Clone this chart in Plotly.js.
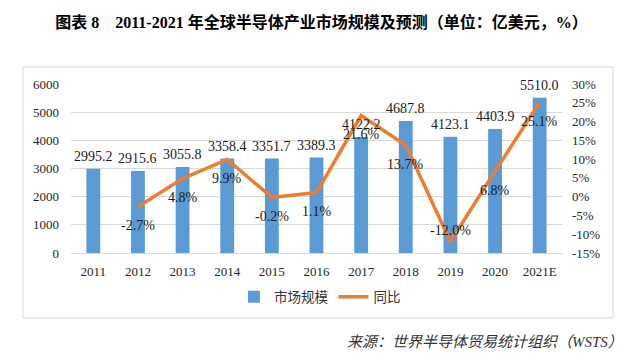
<!DOCTYPE html>
<html>
<head>
<meta charset="utf-8">
<script src="https://cdn.plot.ly/plotly-3.0.1.min.js"></script>
<style>html,body{margin:0;padding:0;background:#fff;}#chart{width:639px;height:358px;}</style>
</head>
<body>
<div id="chart"></div>
<script>
const years = ['2011','2012','2013','2014','2015','2016','2017','2018','2019','2020','2021E'];
const marketSize = [2995.2, 2915.6, 3055.8, 3358.4, 3351.7, 3389.3, 4122.2, 4687.8, 4123.1, 4403.9, 5510.0];
const growthYears = ['2012','2013','2014','2015','2016','2017','2018','2019','2020','2021E'];
const growth = [-2.7, 4.8, 9.9, -0.2, 1.1, 21.6, 13.7, -12.0, 6.8, 25.1];
const leftTicks = [0, 1000, 2000, 3000, 4000, 5000, 6000];
const rightTicks = [-15, -10, -5, 0, 5, 10, 15, 20, 25, 30];

const serif = '"Liberation Serif", "Times New Roman", "Noto Sans CJK SC", serif';
const cjk = '"Liberation Serif", "Noto Sans CJK SC", serif';
const labelFont = {family: serif, size: 14, color: '#1a1a1a'};
const tickColor = '#262626';

const annotations = [];
marketSize.forEach((v, i) => {
  annotations.push({x: years.indexOf(years[i]), y: v, xref: 'x', yref: 'y', text: v.toFixed(1),
    showarrow: false, yshift: 12, yanchor: 'middle', font: labelFont});
});
growth.forEach((v, i) => {
  annotations.push({x: years.indexOf(growthYears[i]), y: v, xref: 'x', yref: 'y2', text: v.toFixed(1) + '%',
    showarrow: false, yshift: v < -10 ? 11 : -19, yanchor: 'middle', font: labelFont});
});
annotations.push({xref: 'paper', yref: 'paper', x: 1.128, y: -0.527, xanchor: 'right', yanchor: 'middle',
  text: '来源：世界半导体贸易统计组织（WSTS）', showarrow: false,
  font: {family: cjk, size: 15, color: '#333', style: 'italic'}});

const data = [
  {type: 'bar', x: years, y: marketSize, name: '市场规模', marker: {color: '#5B9BD5'},
   width: 0.31, yaxis: 'y', hoverinfo: 'skip'},
  {type: 'scatter', mode: 'lines', x: growthYears, y: growth, name: '同比', yaxis: 'y2',
   line: {color: '#ED7D31', width: 3.5}, hoverinfo: 'skip'}
];

const layout = {
  width: 639, height: 358,
  margin: {l: 71, r: 77, t: 84, b: 105},
  paper_bgcolor: '#fff', plot_bgcolor: '#fff',
  showlegend: true,
  title: {text: '<b>图表 8&nbsp;&nbsp;&nbsp;&nbsp;2011-2021 年全球半导体产业市场规模及预测（单位：亿美元，%）</b>',
    x: 0.503, xref: 'container', xanchor: 'center', y: 0.937, yref: 'container', yanchor: 'middle',
    font: {family: cjk, size: 16, color: '#000'}},
  xaxis: {type: 'category', tickfont: {family: serif, size: 13, color: tickColor},
    showgrid: false, zeroline: false, showline: true, linecolor: '#D9D9D9', linewidth: 1,
    ticks: '', ticklabelstandoff: 6, range: [-0.5, 10.5]},
  yaxis: {range: [0, 6000], tickvals: leftTicks, ticktext: leftTicks.map(String),
    tickfont: {family: serif, size: 13, color: tickColor},
    showgrid: true, gridcolor: '#D9D9D9', gridwidth: 1, zeroline: false, showline: false,
    ticks: '', ticklabelstandoff: 11},
  yaxis2: {range: [-15, 30], overlaying: 'y', side: 'right', tickvals: rightTicks,
    ticktext: rightTicks.map(v => v + '%'), tickfont: {family: serif, size: 13, color: tickColor},
    showgrid: false, zeroline: false, showline: false, ticks: '', ticklabelstandoff: 9},
  legend: {orientation: 'h', x: 0.507, xanchor: 'center', y: -0.26, yanchor: 'middle',
    font: {family: cjk, size: 13.5, color: '#333'}, itemwidth: 30, traceorder: 'normal'},
  annotations: annotations,
  shapes: [{type: 'rect', xref: 'paper', yref: 'paper', x0: -0.0978, x1: 1.104, y0: -0.3846, y1: 1.1006,
    line: {color: '#D9D9D9', width: 1}, fillcolor: 'rgba(0,0,0,0)', layer: 'below'}]
};

Plotly.newPlot('chart', data, layout, {displayModeBar: false, staticPlot: true});
</script>
</body>
</html>
